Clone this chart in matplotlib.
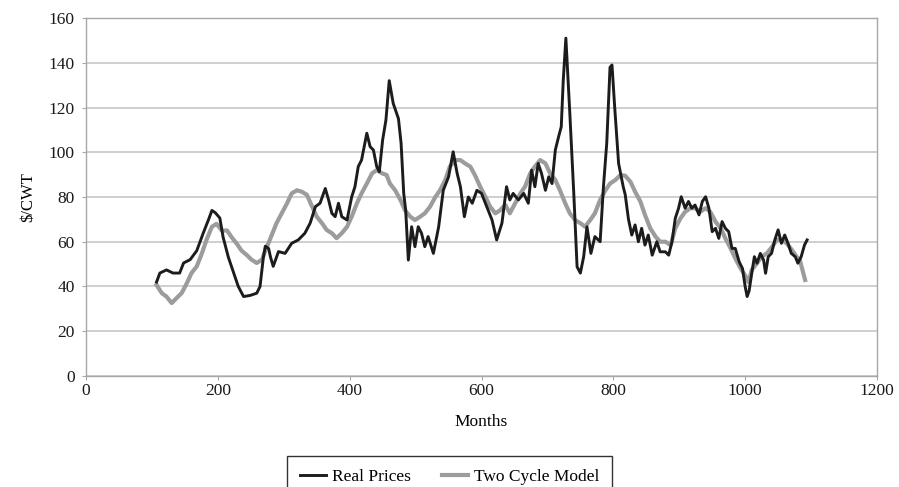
import matplotlib
matplotlib.use("Agg")
import matplotlib.pyplot as plt

# data (months, $/CWT)
real_months = [107, 112, 122, 132, 142, 148, 158, 168, 178, 186, 191, 196, 203, 208, 216,
               224, 231, 239, 249, 259, 264, 269, 272, 277, 280, 284, 292, 302, 312, 322,
               332, 340, 348, 355, 363, 368, 373, 378, 383, 388, 396, 403, 408, 413, 418,
               426, 431, 436, 441, 445, 450, 455, 460, 466, 474, 478, 482, 485, 489, 494,
               499, 504, 509, 514, 519, 527, 535, 542, 550, 557, 563, 568, 574, 580, 586,
               593, 600, 608, 616, 623, 631, 638, 643, 648, 656, 664, 671, 676, 681, 686,
               691, 697, 702, 707, 712, 717, 721, 724, 728, 732, 734, 740, 745, 750, 755,
               760, 766, 772, 780, 785, 790, 795, 798, 802, 808, 815, 818, 823, 828, 833,
               838, 843, 848, 853, 859, 866, 871, 879, 884, 889, 894, 899, 903, 909, 914,
               919, 924, 930, 935, 940, 945, 950, 955, 960, 965, 970, 975, 980, 985, 991,
               996, 1000, 1003, 1006, 1010, 1014, 1018, 1023, 1028, 1031, 1035, 1040, 1045,
               1050, 1055, 1060, 1065, 1070, 1076, 1080, 1085, 1090, 1094]
real_prices = [42, 46, 47.4, 46, 46, 50.5, 52, 56, 64, 70, 74, 73, 70.6, 62, 53,
               46, 40, 35.5, 36, 37, 40, 53, 58, 57, 53, 49, 55.6, 54.8, 59.3, 60.8,
               63.8, 68.3, 75.7, 77.2, 83.8, 78.7, 72.7, 71.2, 77.2, 71.2, 69.7, 80, 84.6, 93.6, 96.5,
               108.5, 102.5, 101, 93.6, 91.3, 105.5, 114.4, 132, 121.9, 115, 104, 81.6, 74, 51.8, 66.7,
               57.8, 66.7, 63.8, 57.8, 62.3, 54.8, 66.7, 83, 89, 100.2, 90.6, 84.6, 71.2, 80, 77.2,
               83, 81.6, 75.7, 69.7, 60.8, 68.3, 84.6, 78.7, 81.6, 78.7, 81.6, 77.2, 92, 84.6, 95,
               90.6, 83, 89, 86, 101, 107, 111.4, 132, 151, 129, 117.4, 81.6, 48.8, 46, 53.3,
               66.7, 54.8, 62.3, 60, 84.6, 104, 138, 139, 120.4, 95, 84.6, 81.1, 70, 63, 67.5,
               60, 66, 58.5, 63, 54, 60, 55.5, 55.5, 54, 60, 70.5, 75, 80.1, 75, 78,
               75, 76.4, 72, 78, 80.1, 75, 64.5, 66, 61.5, 69, 66, 64.5, 57, 57, 51,
               48, 40, 35.5, 38, 45.9, 53.3, 50.4, 54.8, 51.8, 45.9, 53.3, 54.8, 60.8,
               65.3, 59.3, 63, 59.3, 54.8, 53.3, 50.4, 53.3, 58.5, 60.8]

model_months = [107, 115, 122, 130, 138, 145, 153, 160, 168, 176, 183, 191, 198, 206, 214,
                221, 229, 236, 244, 251, 259, 267, 272, 279, 289, 297, 305, 312, 320, 327,
                335, 343, 350, 358, 365, 373, 380, 388, 396, 403, 411, 418, 426, 434, 441,
                449, 456, 461, 469, 477, 484, 492, 499, 507, 514, 522, 530, 537, 545, 552,
                560, 568, 575, 583, 590, 598, 606, 613, 621, 628, 636, 643, 651, 659, 666,
                674, 681, 689, 697, 704, 712, 719, 727, 734, 742, 750, 757, 765, 772, 780,
                788, 795, 803, 811, 818, 826, 833, 841, 848, 856, 864, 871, 879, 887, 894,
                902, 909, 917, 924, 932, 940, 947, 955, 963, 970, 978, 985, 993, 1000, 1005,
                1010, 1018, 1025, 1033, 1041, 1048, 1056, 1063, 1071, 1078, 1083, 1087, 1091]
model_prices = [40.7, 37, 35.5, 32.6, 35, 37, 41.5, 46, 49, 55, 61, 66.7, 68, 65, 65,
                62, 59, 56, 54, 52, 50.5, 52, 56, 61, 68.3, 72.7, 77.2, 81.6, 83, 82.4,
                81, 75.7, 71.2, 68.3, 65.3, 63.8, 61.6, 63.8, 66.7, 71.2, 77.2, 81.6, 86, 90.6, 92,
                90.6, 89.8, 86, 83, 78.7, 74, 71.2, 69.7, 71.2, 72.7, 75.7, 80, 83, 87.6, 93.6,
                96.5, 96.5, 95, 93.6, 89.8, 84.6, 80, 75.7, 72.7, 74, 76.5, 72.7, 77.2, 81.6, 84.6,
                90.6, 93.6, 96.5, 95, 90.6, 87.6, 83, 77.2, 72.7, 69.7, 68.3, 66.7, 69.7, 72.7, 78.7,
                83, 86, 87.6, 89.8, 89.5, 86.8, 82.4, 78, 72, 66, 62.3, 60, 60, 58.5, 66,
                70.5, 73.4, 75, 75, 73.4, 75, 73.4, 69, 66, 61.5, 57, 52.6, 48.1, 45, 42,
                47.4, 50.4, 53.3, 54.8, 57.8, 60.8, 60.8, 59.3, 56.3, 53.3, 51.8, 47.4, 42.9]

x_ticks = [0, 200, 400, 600, 800, 1000, 1200]
y_ticks = [0, 20, 40, 60, 80, 100, 120, 140, 160]

plt.rcParams["font.family"] = ["Liberation Serif", "DejaVu Serif"]

fig = plt.figure(figsize=(8.99, 4.87), dpi=100)
ax = fig.add_axes([0.0957, 0.228, 0.8798, 0.735])

ax.plot(model_months, model_prices, color="#9c9c9c", lw=3.0, label="Two Cycle Model", zorder=3)
ax.plot(real_months, real_prices, color="#1c1c1c", lw=2.1, label="Real Prices", zorder=4)

ax.set_xlim(0, 1200)
ax.set_ylim(0, 160)
ax.set_xticks(x_ticks)
ax.set_yticks(y_ticks)
ax.grid(axis="y", color="#cccccc", lw=1.3)
ax.set_axisbelow(True)
for s in ax.spines.values():
    s.set_color("#a8a8a8")
    s.set_linewidth(1.0)
ax.tick_params(axis="both", colors="#a8a8a8", labelcolor="#1a1a1a", labelsize=12.5, length=3)
ax.tick_params(axis="y", pad=5)
ax.tick_params(axis="x", pad=2)
ax.set_xlabel("Months", fontsize=12.5, labelpad=11)
ax.set_ylabel("$/CWT", fontsize=12, labelpad=9)

# legend box runs off the bottom edge, as in the source
h, l = ax.get_legend_handles_labels()
leg = fig.legend(h[::-1], l[::-1], loc="upper center", bbox_to_anchor=(0.5, 0.064),
                 ncol=2, fontsize=12.5, frameon=True, fancybox=False, handlelength=1.5,
                 handletextpad=0.35, columnspacing=1.8, borderpad=0.75, borderaxespad=0)
leg.get_frame().set_edgecolor("black")
leg.get_frame().set_linewidth(1.0)

fig.savefig("out.png", dpi=100)
